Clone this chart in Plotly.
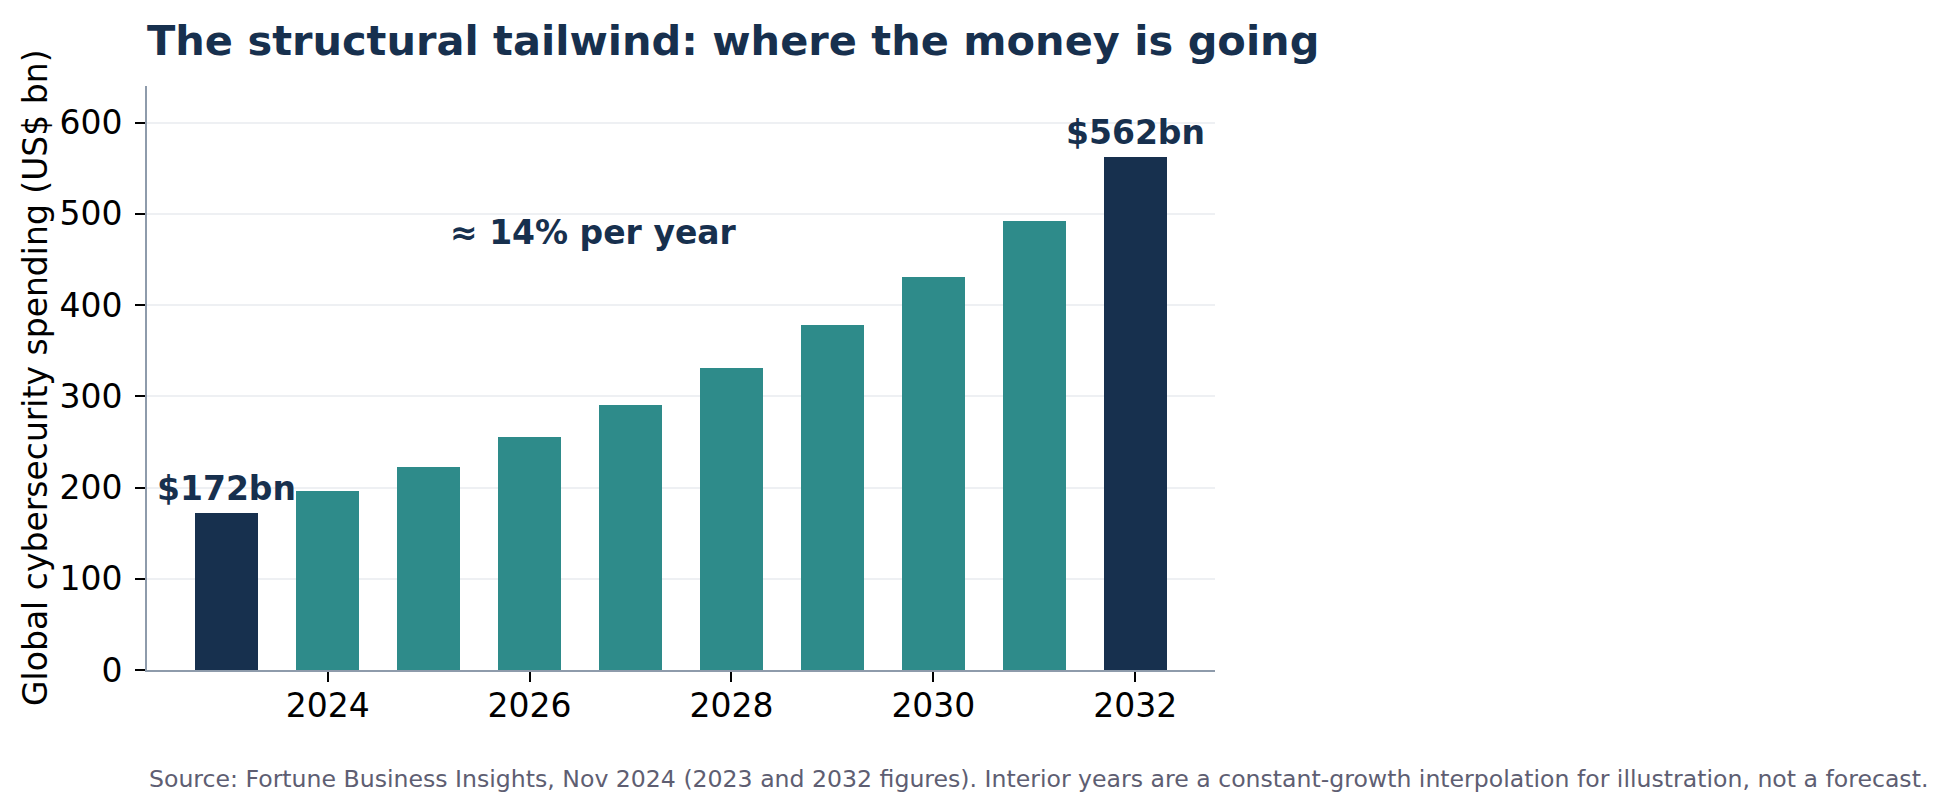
import plotly.graph_objects as go

years = [2023, 2024, 2025, 2026, 2027, 2028, 2029, 2030, 2031, 2032]
spending = [172, 196, 223, 255, 290, 331, 378, 431, 492, 562]
x_ticks = [2024, 2026, 2028, 2030, 2032]
y_ticks = [0, 100, 200, 300, 400, 500, 600]

NAVY = "#17304e"
TEAL = "#2e8b8a"
colors = [NAVY if y in (2023, 2032) else TEAL for y in years]

FONT = "DejaVu Sans"

fig = go.Figure()
fig.add_trace(go.Bar(
    x=years, y=spending, width=0.62,
    marker=dict(color=colors, line=dict(width=0)),
    hoverinfo="x+y", showlegend=False,
))

fig.update_layout(
    width=1949, height=812,
    margin=dict(l=147, r=734, t=86, b=142),
    plot_bgcolor="white", paper_bgcolor="white",
    font=dict(family=FONT, size=33, color="black"),
    title=dict(
        text="<b>The structural tailwind: where the money is going</b>",
        font=dict(family=FONT, size=41.5, color=NAVY),
        x=147/1949, xref="container", xanchor="left",
        y=1-40/812, yanchor="middle",
    ),
    bargap=0,
)

fig.update_xaxes(
    range=[2022.21, 2032.79],
    tickmode="array", tickvals=x_ticks, ticktext=[str(v) for v in x_ticks],
    ticks="outside", ticklen=10, tickwidth=2, tickcolor="black",
    showline=True, linecolor="#8e9bab", linewidth=2,
    showgrid=False, zeroline=False,
    tickfont=dict(family=FONT, size=33, color="black"),
    ticklabelstandoff=-5,
)
fig.update_yaxes(
    range=[0, 640],
    tickmode="array", tickvals=y_ticks, ticktext=[str(v) for v in y_ticks],
    ticks="outside", ticklen=10, tickwidth=2, tickcolor="black",
    showline=True, linecolor="#8e9bab", linewidth=2,
    showgrid=True, gridcolor="#eef0f3", gridwidth=2,
    zeroline=False,
    tickfont=dict(family=FONT, size=33, color="black"),
    ticklabelstandoff=6,
)

# y-axis title
fig.add_annotation(
    text="Global cybersecurity spending (US$ bn)",
    xref="paper", yref="paper", x=-(147-35)/1068, y=0.5,
    xanchor="center", yanchor="middle", textangle=-90, showarrow=False,
    font=dict(family=FONT, size=33, color="black"),
)

# value labels
fig.add_annotation(
    text="<b>$%dbn</b>" % spending[0], x=years[0], y=spending[0],
    xanchor="center", yanchor="bottom", yshift=3, showarrow=False,
    font=dict(family=FONT, size=33, color=NAVY),
)
fig.add_annotation(
    text="<b>$%dbn</b>" % spending[-1], x=years[-1], y=spending[-1],
    xanchor="center", yanchor="bottom", yshift=3, showarrow=False,
    font=dict(family=FONT, size=33, color=NAVY),
)
fig.add_annotation(
    text="<b>≈ 14% per year</b>", x=2026.63, y=480,
    xanchor="center", yanchor="middle", showarrow=False,
    font=dict(family=FONT, size=33, color=NAVY),
)

# source
fig.add_annotation(
    text="Source: Fortune Business Insights, Nov 2024 (2023 and 2032 figures). Interior years are a constant-growth interpolation for illustration, not a forecast.",
    xref="paper", yref="paper", x=0, y=-(779-670)/584,
    xanchor="left", yanchor="middle", showarrow=False,
    font=dict(family=FONT, size=23.6, color="#5e5e72"),
)

fig.write_html("out.html")
